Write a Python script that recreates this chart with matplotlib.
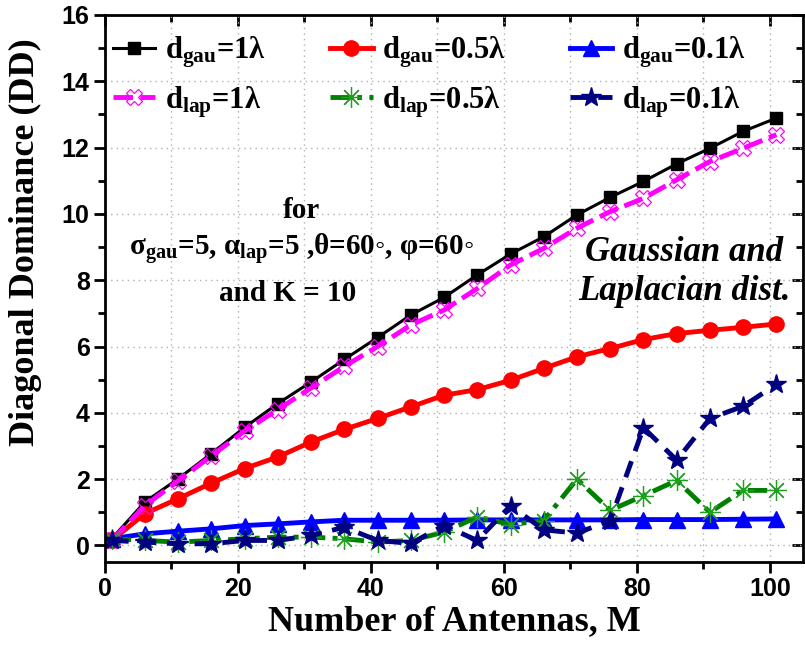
import numpy as np
import matplotlib
matplotlib.use('Agg')
import matplotlib.pyplot as plt
from matplotlib.ticker import MultipleLocator

# number of antennas (x)
M = [1, 6, 11, 16, 21, 26, 31, 36, 41, 46, 51, 56, 61, 66, 71, 76, 81, 86, 91, 96, 101]

# gaussian distribution
dd_gau_1 = [0.2, 1.31, 2.01, 2.77, 3.56, 4.28, 4.93, 5.61, 6.27, 6.95, 7.48, 8.16, 8.79, 9.31,
            9.97, 10.5, 10.98, 11.51, 11.98, 12.49, 12.89]
dd_gau_05 = [0.15, 0.96, 1.41, 1.88, 2.32, 2.67, 3.12, 3.5, 3.83, 4.18, 4.53, 4.7, 4.98, 5.34,
             5.69, 5.94, 6.21, 6.39, 6.49, 6.58, 6.68]
dd_gau_01 = [0.2, 0.35, 0.43, 0.5, 0.6, 0.65, 0.71, 0.76, 0.76, 0.76, 0.76, 0.77, 0.77, 0.77,
             0.77, 0.77, 0.78, 0.78, 0.78, 0.79, 0.8]

# laplacian distribution
dd_lap_1 = [0.15, 1.2, 1.95, 2.7, 3.45, 4.1, 4.75, 5.4, 6.0, 6.65, 7.1, 7.75, 8.46, 8.96,
            9.57, 10.07, 10.47, 11.03, 11.58, 11.98, 12.39]
dd_lap_05 = [0.2, 0.15, 0.1, 0.15, 0.2, 0.25, 0.25, 0.2, 0.1, 0.15, 0.4, 0.86, 0.63, 0.75,
             2.0, 1.06, 1.5, 1.96, 1.0, 1.66, 1.66]
dd_lap_01 = [0.15, 0.1, 0.05, 0.05, 0.15, 0.15, 0.3, 0.55, 0.15, 0.06, 0.6, 0.15, 1.2, 0.47,
             0.37, 0.75, 3.55, 2.57, 3.83, 4.2, 4.86]

plt.rcParams['font.family'] = ['Liberation Serif', 'DejaVu Serif']
plt.rcParams['font.weight'] = 'bold'
plt.rcParams['mathtext.fontset'] = 'custom'
plt.rcParams['mathtext.rm'] = 'Liberation Serif:bold'
plt.rcParams['mathtext.it'] = 'Liberation Serif:italic:bold'
plt.rcParams['mathtext.bf'] = 'Liberation Serif:bold'

fig = plt.figure(figsize=(8.05, 6.46), dpi=100)
ax = fig.add_axes([105/805, 84/646, 698/805, 547/646])

l1, = ax.plot(M, dd_gau_1, '-', color='black', lw=2.2, marker='s', ms=9,
              label=r'd$_{\mathrm{gau}}$=1λ')
l2, = ax.plot(M, dd_gau_05, '-', color='red', lw=3.5, marker='o', ms=11,
              label=r'd$_{\mathrm{gau}}$=0.5λ')
l3, = ax.plot(M, dd_gau_01, '-', color='blue', lw=3.5, marker='^', ms=12,
              label=r'd$_{\mathrm{gau}}$=0.1λ')
l4, = ax.plot(M, dd_lap_1, color='magenta', lw=3.5, dashes=(4, 1.5), marker='X', ms=12,
              mfc='none', mec='magenta', mew=0.9, label=r'd$_{\mathrm{lap}}$=1λ')
l5, = ax.plot(M, dd_lap_05, color='green', lw=3.5, dashes=(4, 1.5, 1, 1.5), marker=(8, 2, 0),
              ms=15, mec='#20a020', mew=0.9, label=r'd$_{\mathrm{lap}}$=0.5λ')
l6, = ax.plot(M, dd_lap_01, color='navy', lw=3.5, dashes=(3.5, 2.2), marker='*', ms=15,
              label=r'd$_{\mathrm{lap}}$=0.1λ')

ax.set_xlim(0, 105)
ax.set_ylim(-0.5, 16)
ax.xaxis.set_major_locator(MultipleLocator(20))
ax.xaxis.set_minor_locator(MultipleLocator(10))
ax.yaxis.set_major_locator(MultipleLocator(2))
ax.yaxis.set_minor_locator(MultipleLocator(1))
ax.grid(which='both', axis='x', color='#b0b0b0', lw=1, ls=(0, (1, 3)))
ax.grid(which='major', axis='y', color='#b0b0b0', lw=1, ls=(0, (1, 3)))
ax.tick_params(which='major', direction='out', length=8, width=2, labelsize=18, pad=3)
ax.tick_params(which='minor', direction='out', length=5, width=2)
for lab in ax.get_xticklabels() + ax.get_yticklabels():
    lab.set_family('Liberation Sans')
    lab.set_weight('bold')
for s in ax.spines.values():
    s.set_linewidth(2)

top = ax.secondary_xaxis('top')
top.xaxis.set_major_locator(MultipleLocator(20))
top.xaxis.set_minor_locator(MultipleLocator(10))
top.tick_params(which='major', direction='in', length=8, width=2, labeltop=False)
top.tick_params(which='minor', direction='in', length=5, width=2)
right = ax.secondary_yaxis('right')
right.yaxis.set_major_locator(MultipleLocator(2))
right.yaxis.set_minor_locator(MultipleLocator(1))
right.tick_params(which='major', direction='in', length=8, width=2, labelright=False)
right.tick_params(which='minor', direction='in', length=5, width=2)

ax.set_xlabel('Number of Antennas, M', fontsize=26, fontweight='bold')
ax.xaxis.set_label_coords(0.5, -0.078)
ax.set_ylabel('Diagonal Dominance (DD)', fontsize=26, fontweight='bold')
ax.yaxis.set_label_coords(-0.09, 0.585)

ax.legend(handles=[l1, l4, l2, l5, l3, l6], ncol=3, loc='upper left',
          bbox_to_anchor=(0.011, 0.964), frameon=False, fontsize=22,
          handlelength=1.4, handletextpad=0.3, columnspacing=2.1,
          labelspacing=0.45, borderpad=0, borderaxespad=0)

ax.text(0.282, 0.642, 'for', transform=ax.transAxes, ha='center', va='center', fontsize=21)
ax.text(0.282, 0.572, r'σ$_{\mathrm{gau}}$=5, α$_{\mathrm{lap}}$=5 ,θ=60◦, φ=60◦',
        transform=ax.transAxes, ha='center', va='center', fontsize=21)
ax.text(0.262, 0.49, 'and K = 10', transform=ax.transAxes, ha='center', va='center', fontsize=21)
ax.text(0.83, 0.53, 'Gaussian and\nLaplacian dist.', transform=ax.transAxes, ha='center',
        va='center', fontsize=25, fontstyle='italic', linespacing=1.25)

fig.savefig('out.png', dpi=100)
